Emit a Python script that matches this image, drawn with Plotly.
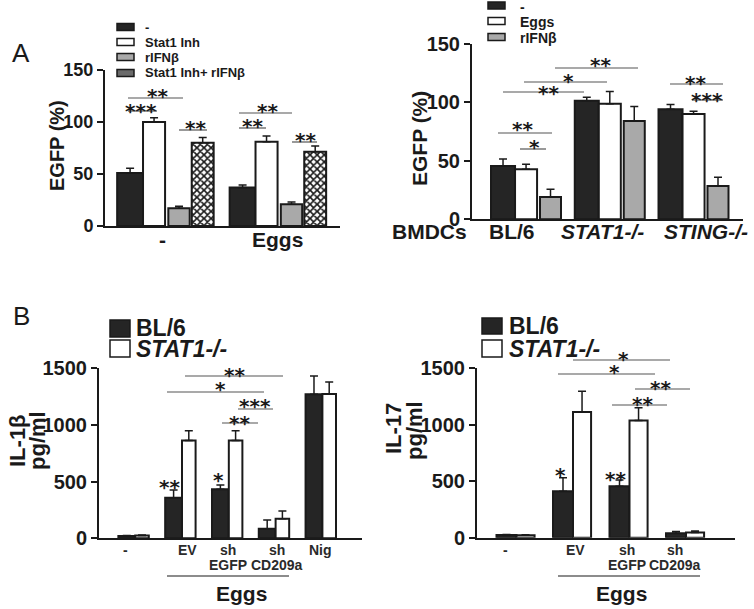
import plotly.graph_objects as go

W, H = 754, 609

# ---------------- Data ----------------
# Panel A (left): EGFP (%) by treatment
a1_cats = ["-", "Eggs"]
a1_ctrl = [51, 37]
a1_ctrl_err = [4.5, 2.5]
a1_stat1 = [100, 81]
a1_stat1_err = [4, 5.5]
a1_rifn = [17, 21]
a1_rifn_err = [2, 2]
a1_combo = [80, 71.5]
a1_combo_err = [5, 5.5]
a1_legend = ["-", "Stat1 Inh", "rIFNβ", "Stat1 Inh+ rIFNβ"]

# Panel A (right): EGFP (%) in BMDCs
a2_cats = ["BL/6", "STAT1-/-", "STING-/-"]
a2_ctrl = [45.7, 101.4, 94.2]
a2_ctrl_err = [6, 3, 4]
a2_eggs = [42.8, 98.8, 90.2]
a2_eggs_err = [4.3, 10.6, 2.3]
a2_rifn = [19.1, 84.2, 28.5]
a2_rifn_err = [6.6, 12.3, 7.5]
a2_legend = ["-", "Eggs", "rIFNβ"]
a2_ticklabels = ["BMDCs", "BL/6", "<i>STAT1-/-</i>", "<i>STING-/-</i>"]

# Panel B (left): IL-1β pg/ml
b1_cats = ["-", "EV", "sh EGFP", "sh CD209a", "Nig"]
b1_bl6 = [20, 358, 432, 85, 1271]
b1_bl6_err = [5, 68, 38, 77, 161]
b1_stat1 = [25, 862, 862, 173, 1274]
b1_stat1_err = [5, 88, 88, 68, 106]
b1_ticklabels = [["-"], ["EV"], ["sh", "EGFP"], ["sh", "CD209a"], ["Nig"]]

# Panel B (right): IL-17 pg/ml
b2_cats = ["-", "EV", "sh EGFP", "sh CD209a"]
b2_bl6 = [24, 411, 455, 39]
b2_bl6_err = [4, 119, 54, 15]
b2_stat1 = [21, 1111, 1036, 45]
b2_stat1_err = [4, 184, 113, 15]
b2_ticklabels = [["-"], ["EV"], ["sh", "EGFP"], ["sh", "CD209a"]]

b_legend = ["BL/6", "<i>STAT1-/-</i>"]

a_ticks = [0, 50, 100, 150]
b_ticks = [0, 500, 1000, 1500]

# ---------------- Styles ----------------
FONT = "Liberation Sans, Arial, sans-serif"
STARFONT = "DejaVu Sans, sans-serif"
INK = "#1a1a1a"
BLACK = "#252525"
GRAY = "#a9a9a9"
LINEGRAY = "#555555"


def px(x, y):
    return x / W, 1 - y / H


def bar(x, y, err, xa, ya, fill, offset, width, pattern=None):
    marker = dict(color=fill, line=dict(color=INK, width=2))
    if pattern:
        marker["pattern"] = pattern
    return go.Bar(
        x=x, y=y, xaxis=xa, yaxis=ya, offset=offset, width=width,
        marker=marker, showlegend=False,
        error_y=dict(type="data", array=err, arrayminus=[0] * len(err),
                     symmetric=False, color=INK, thickness=1.5, width=4),
    )


checker = dict(shape="x", size=5, solidity=0.55, fgcolor=INK, bgcolor="white")

fig = go.Figure()
# A left
fig.add_trace(bar(a1_cats, a1_ctrl, a1_ctrl_err, "x", "y", BLACK, -0.43, 0.23))
fig.add_trace(bar(a1_cats, a1_stat1, a1_stat1_err, "x", "y", "white", -0.2, 0.196))
fig.add_trace(bar(a1_cats, a1_rifn, a1_rifn_err, "x", "y", GRAY, 0.025, 0.19))
fig.add_trace(bar(a1_cats, a1_combo, a1_combo_err, "x", "y", "white", 0.233, 0.195, checker))
# A right
fig.add_trace(bar(a2_cats, a2_ctrl, a2_ctrl_err, "x2", "y2", BLACK, -0.418, 0.287))
fig.add_trace(bar(a2_cats, a2_eggs, a2_eggs_err, "x2", "y2", "white", -0.131, 0.263))
fig.add_trace(bar(a2_cats, a2_rifn, a2_rifn_err, "x2", "y2", GRAY, 0.167, 0.251))
# B left
fig.add_trace(bar(b1_cats, b1_bl6, b1_bl6_err, "x3", "y3", BLACK, -0.36, 0.36))
fig.add_trace(bar(b1_cats, b1_stat1, b1_stat1_err, "x3", "y3", "white", 0.0, 0.29))
# B right
fig.add_trace(bar(b2_cats, b2_bl6, b2_bl6_err, "x4", "y4", BLACK, -0.354, 0.354))
fig.add_trace(bar(b2_cats, b2_stat1, b2_stat1_err, "x4", "y4", "white", 0.0, 0.32))


def xax(dom_px, rng):
    return dict(domain=[dom_px[0] / W, dom_px[1] / W], type="category", range=rng,
                showline=True, linewidth=2, linecolor=INK, ticks="",
                showticklabels=False, showgrid=False, zeroline=False,
                fixedrange=True, automargin=False)


def yax(dom_px, rng, ticks, anchor, size):
    return dict(domain=[1 - dom_px[0] / H, 1 - dom_px[1] / H], range=rng, anchor=anchor,
                tickvals=ticks, showline=True, linewidth=2, linecolor=INK,
                ticks="outside", ticklen=6, tickwidth=2, tickcolor=INK,
                tickfont=dict(family=FONT, size=size, color=INK, weight="bold"),
                showgrid=False, zeroline=False, fixedrange=True, automargin=False)


layout = dict(
    template="none",
    width=W, height=H, margin=dict(l=0, r=0, t=0, b=0, autoexpand=False),
    paper_bgcolor="white", plot_bgcolor="white", barmode="overlay",
    xaxis=xax((105, 340), [-0.538, 1.551]) | dict(anchor="y"),
    yaxis=yax((226, 70), [0, 150], a_ticks, "x", 18),
    xaxis2=xax((472, 743), [-0.645, 2.591]) | dict(anchor="y2"),
    yaxis2=yax((219.3, 44), [0, 150], a_ticks, "x2", 20),
    xaxis3=xax((99, 362), [-0.774, 4.846]) | dict(anchor="y3"),
    yaxis3=yax((538.3, 368.3), [0, 1500], b_ticks, "x3", 20),
    xaxis4=xax((477, 735), [-0.699, 3.867]) | dict(anchor="y4"),
    yaxis4=yax((537.7, 368), [0, 1500], b_ticks, "x4", 20),
)
fig.update_layout(**layout)

shapes = []
annos = []


def text(t, x, y, size, bold=True, xanchor="center", angle=0, family=FONT, color=INK):
    xx, yy = px(x, y)
    annos.append(dict(text=t, x=xx, y=yy, xref="paper",
                      yref="paper", showarrow=False, xanchor=xanchor, yanchor="middle",
                      textangle=angle,
                      font=dict(family=family, size=size, color=color,
                                weight="bold" if bold else "normal")))


def hline(x0, x1, y, color=LINEGRAY, w=1.2):
    a, b = px(x0, y)
    c, _ = px(x1, y)
    shapes.append(dict(type="line", xref="paper", yref="paper", x0=a, x1=c, y0=b, y1=b,
                       line=dict(color=color, width=w)))


def rect(x0, y0, x1, y1, fill, lw=1.5):
    a, b = px(x0, y0)
    c, d = px(x1, y1)
    shapes.append(dict(type="rect", xref="paper", yref="paper", x0=a, x1=c, y0=b, y1=d,
                       fillcolor=fill, line=dict(color=INK, width=lw)))


STAR_SHIFT = 5


def star(t, x, y):
    text(t, x, y + STAR_SHIFT, 20, bold=True, family=STARFONT)


# panel letters
text("A", 21, 53, 26, bold=False)
text("B", 21, 316, 26, bold=False)

# y titles
text("EGFP (%)", 57, 145, 20, angle=-90)
text("EGFP (%)", 419, 139, 21, angle=-90)
text("IL-1β", 17, 441, 22, angle=-90)
text("pg/ml", 37, 441, 22, angle=-90)
text("IL-17", 393, 429, 22, angle=-90)
text("pg/ml", 414, 431, 22, angle=-90)

# A-left legend
for lab, fill, yc in zip(a1_legend, [BLACK, "white", GRAY, "#6a6a6a"], [27, 42, 57, 73]):
    rect(117, yc - 3.5, 134, yc + 3.5, fill)
    text(lab, 143, yc, 13, xanchor="left")
# A-right legend
for lab, fill, yc in zip(a2_legend, [BLACK, "white", GRAY], [5.5, 21, 37]):
    rect(488, yc - 3.5, 505, yc + 3.5, fill)
    text(lab, 518, yc + 1, 14, xanchor="left")
# B legends
for lab, fill, (y0, y1) in zip(b_legend, [BLACK, "white"], [(320, 337), (340, 357)]):
    rect(110, y0, 130, y1, fill)
    text(lab, 134, (y0 + y1) / 2, 23, xanchor="left")
for lab, fill, (y0, y1) in zip(b_legend, [BLACK, "white"], [(318, 334), (340, 357)]):
    rect(482, y0, 502, y1, fill)
    text(lab, 507, (y0 + y1) / 2, 23, xanchor="left")

# x labels
for lab, x in zip(a1_cats, [162, 277]):
    text(lab, x, 240, 21)
for lab, x in zip(a2_ticklabels, [429, 512, 602, 706]):
    text(lab, x, 231, 21)
for lines, x in list(zip(b1_ticklabels, [125, 187, 228, 277, 320])) + \
        list(zip(b2_ticklabels, [505, 575, 627, 675])):
    for i, ln in enumerate(lines):
        text(ln, x, 550 + 15 * i, 14, color="#2a2a2a")
hline(167, 289, 576, INK, 1.2)
hline(558, 700, 576, INK, 1.2)
text("Eggs", 241, 593, 21)
text("Eggs", 621, 593, 21)

# significance brackets
for x0, x1, y in [(128, 183, 98), (128, 157, 111), (179, 207, 130),
                  (239, 292, 113), (239, 266, 128), (292, 317, 142),
                  (555, 638, 68), (524, 607, 82), (503, 584, 92), (670, 723, 84),
                  (692, 723, 100), (498, 552, 133), (520, 546, 149),
                  (185, 283, 376), (167, 264, 392), (238, 273, 409), (222, 258, 423),
                  (573, 670, 360), (558, 655, 374), (635, 690, 389), (612, 667, 405)]:
    hline(x0, x1, y)

for t, x, y in [("**", 157, 91), ("***", 141, 106), ("**", 195, 123),
                ("**", 267, 106), ("**", 252, 121), ("**", 305, 135),
                ("**", 600, 60), ("*", 568, 76), ("**", 548, 88), ("**", 695, 78),
                ("***", 707, 95), ("**", 522, 124), ("*", 534, 142),
                ("**", 234, 370), ("*", 220, 384), ("***", 255, 401), ("**", 239, 418),
                ("**", 169, 482), ("*", 218, 475),
                ("*", 623, 354), ("*", 614, 367), ("**", 660, 383), ("**", 642, 399),
                ("*", 560, 470), ("**", 615, 474)]:
    star(t, x, y)

fig.update_layout(shapes=shapes, annotations=annos)
fig.write_html("out.html", config={"displayModeBar": False},
               post_script="document.body.style.margin='0';")
